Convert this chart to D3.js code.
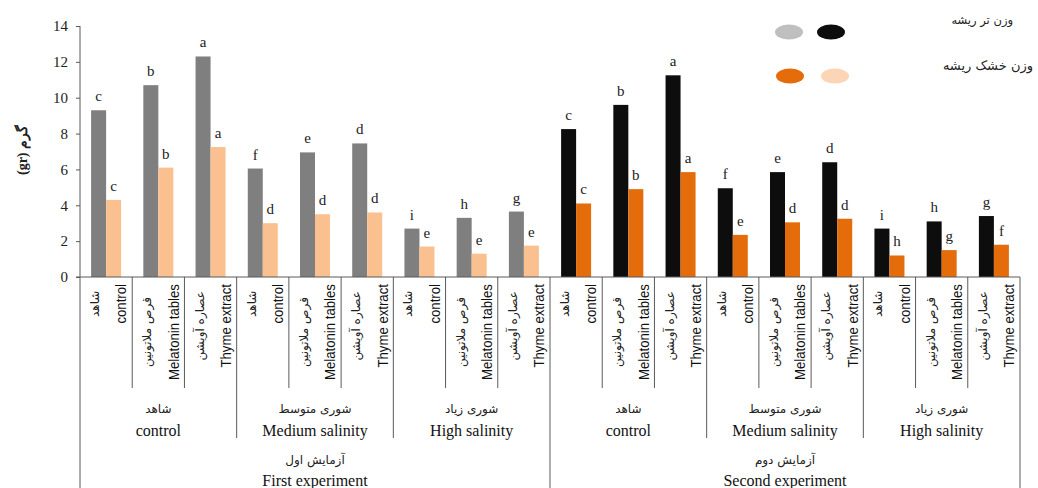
<!DOCTYPE html>
<html>
<head>
<meta charset="utf-8">
<script src="https://cdn.jsdelivr.net/npm/d3@7"></script>
<style>
  html, body { margin: 0; padding: 0; background: #fff; }
  svg { display: block; }
</style>
</head>
<body>
<svg id="chart" width="1038" height="488"></svg>
<script>
// Treatments (inner level), salinity groups (middle) and experiments (outer)
const treatmentEn = ["control", "Melatonin tables", "Thyme extract"];
const treatmentFa = ["شاهد", "قرص ملاتونین", "عصاره آویشن"];
const salinityEn = ["control", "Medium salinity", "High salinity"];
const salinityFa = ["شاهد", "شوری متوسط", "شوری زیاد"];
const experimentEn = ["First experiment", "Second experiment"];
const experimentFa = ["آزمایش اول", "آزمایش دوم"];

// Root fresh weight and root dry weight (gr), 18 bars each
const freshWeight = [9.3, 10.7, 12.3, 6.05, 6.95, 7.45, 2.7, 3.3, 3.65,
                     8.25, 9.6, 11.25, 4.95, 5.85, 6.4, 2.7, 3.1, 3.4];
const dryWeight   = [4.3, 6.1, 7.25, 3.0, 3.5, 3.6, 1.7, 1.3, 1.75,
                     4.1, 4.9, 5.85, 2.35, 3.05, 3.25, 1.2, 1.5, 1.8];
const freshLetters = ["c","b","a","f","e","d","i","h","g", "c","b","a","f","e","d","i","h","g"];
const dryLetters   = ["c","b","a","d","d","d","e","e","e", "c","b","a","e","d","d","h","g","f"];

const yTicks = [0, 2, 4, 6, 8, 10, 12, 14];

const legendFresh = "وزن تر ریشه";
const legendDry = "وزن خشک ریشه";
const yTitle = "(gr) گرم";

// colours per experiment: [fresh, dry]
const colours = [["#7f7f7f", "#fac090"], ["#0d0d0d", "#e46c0a"]];

(function draw() {
  const rows = [];
  experimentEn.forEach((e, ei) => {
    salinityEn.forEach((s, si) => {
      treatmentEn.forEach((t, ti) => {
        const i = ei * 9 + si * 3 + ti;
        rows.push({ id: i, ei, si, ti,
          fresh: freshWeight[i], dry: dryWeight[i],
          fl: freshLetters[i], dl: dryLetters[i] });
      });
    });
  });

  const svg = d3.select("#chart");
  const plotLeft = 80, plotRight = 1020, plotTop = 25, plotBottom = 277;

  const x = d3.scaleBand().domain(rows.map(d => d.id)).range([plotLeft, plotRight]).padding(0);
  const y = d3.scaleLinear().domain([0, 14]).range([plotBottom, plotTop + 1]);
  const barW = 15;
  const serif = "'Liberation Serif', 'Times New Roman', serif";
  const persian = "'DejaVu Sans', sans-serif";
  const lineCol = "#5a5a5a";

  // bars with significance letters
  const g = svg.append("g");
  rows.forEach(d => {
    const cx = x(d.id) + x.bandwidth() / 2;
    const series = [
      { v: d.fresh, l: d.fl, x0: cx - barW, c: colours[d.ei][0] },
      { v: d.dry, l: d.dl, x0: cx, c: colours[d.ei][1] }
    ];
    series.forEach(s => {
      g.append("rect")
        .attr("x", s.x0).attr("y", y(s.v))
        .attr("width", barW).attr("height", y(0) - y(s.v))
        .attr("fill", s.c);
      g.append("text")
        .attr("x", s.x0 + barW / 2).attr("y", y(s.v) - 9)
        .attr("text-anchor", "middle")
        .style("font-family", serif).style("font-size", "15px").attr("fill", "#222")
        .text(s.l);
    });
  });

  // y axis
  const yAxis = svg.append("g").attr("transform", `translate(${plotLeft},0)`)
    .call(d3.axisLeft(y).tickValues(yTicks).tickSize(4).tickPadding(8));
  yAxis.select(".domain").attr("stroke", lineCol).attr("d", `M0,${plotTop + 1}V${plotBottom}`);
  yAxis.selectAll(".tick line").attr("stroke", lineCol);
  yAxis.selectAll(".tick text").style("font-family", serif).style("font-size", "15px").attr("fill", "#222");

  // x baseline
  svg.append("line").attr("x1", plotLeft - 4).attr("x2", plotRight)
    .attr("y1", plotBottom).attr("y2", plotBottom).attr("stroke", lineCol);

  // dividers below the axis
  for (let k = 0; k <= 18; k++) {
    const xx = plotLeft + k * x.bandwidth();
    let y2 = 388;
    if (k % 9 === 0) y2 = 488;
    else if (k % 3 === 0) y2 = 438;
    svg.append("line").attr("x1", xx).attr("x2", xx).attr("y1", plotBottom).attr("y2", y2)
      .attr("stroke", lineCol);
  }

  // treatment labels (rotated, horizontally condensed English line)
  const condense = 0.88;
  rows.forEach(d => {
    const cx = x(d.id) + x.bandwidth() / 2;
    const en = svg.append("text")
      .style("font-family", "'Liberation Sans Narrow', 'Arial Narrow', 'Liberation Sans', sans-serif")
      .style("font-size", "15px").attr("fill", "#111")
      .attr("text-anchor", "middle").attr("dominant-baseline", "central")
      .text(treatmentEn[d.ti]);
    const len = en.node().getComputedTextLength() * condense;
    const yc = 284 + len / 2;
    en.attr("transform", `translate(${cx + 15},${yc}) rotate(-90) scale(${condense},1)`);
    svg.append("text")
      .style("font-family", persian).style("font-size", "12px").attr("fill", "#222")
      .attr("text-anchor", "middle").attr("dominant-baseline", "central")
      .attr("transform", `translate(${cx - 11},${yc}) rotate(-90)`)
      .text(treatmentFa[d.ti]);
  });

  // salinity group and experiment labels
  for (let e = 0; e < 2; e++) {
    for (let s = 0; s < 3; s++) {
      const cx = plotLeft + (e * 9 + s * 3 + 1.5) * x.bandwidth();
      svg.append("text").attr("x", cx).attr("y", 413).attr("text-anchor", "middle")
        .style("font-family", persian).style("font-size", "12px").attr("fill", "#222")
        .text(salinityFa[s]);
      svg.append("text").attr("x", cx).attr("y", 436).attr("text-anchor", "middle")
        .style("font-family", serif).style("font-size", "16px").attr("fill", "#111")
        .text(salinityEn[s]);
    }
    const ex = plotLeft + (e * 9 + 4.5) * x.bandwidth();
    svg.append("text").attr("x", ex).attr("y", 464).attr("text-anchor", "middle")
      .style("font-family", persian).style("font-size", "12px").attr("fill", "#222")
      .text(experimentFa[e]);
    svg.append("text").attr("x", ex).attr("y", 486).attr("text-anchor", "middle")
      .style("font-family", serif).style("font-size", "16px").attr("fill", "#111")
      .text(experimentEn[e]);
  }

  // y title
  svg.append("text")
    .attr("transform", "translate(22,150) rotate(-90)")
    .attr("text-anchor", "middle").attr("dominant-baseline", "central")
    .style("font-family", serif).style("font-size", "14px").style("font-weight", "bold")
    .attr("fill", "#222")
    .text(yTitle);

  // legend
  const lg = svg.append("g");
  [[789, 32, "#bfbfbf"], [831, 32, "#0d0d0d"], [790, 76, "#e46c0a"], [835, 76, "#fbd5b5"]]
    .forEach(([cx, cy, c]) => {
      lg.append("ellipse").attr("cx", cx).attr("cy", cy).attr("rx", 14).attr("ry", 7.5).attr("fill", c);
    });
  lg.append("text").attr("x", 1013).attr("y", 24).attr("text-anchor", "end")
    .style("font-family", persian).style("font-size", "11.5px").attr("fill", "#222").text(legendFresh);
  lg.append("text").attr("x", 1033).attr("y", 70).attr("text-anchor", "end")
    .style("font-family", persian).style("font-size", "13px").attr("fill", "#222").text(legendDry);
})();
</script>
</body>
</html>
